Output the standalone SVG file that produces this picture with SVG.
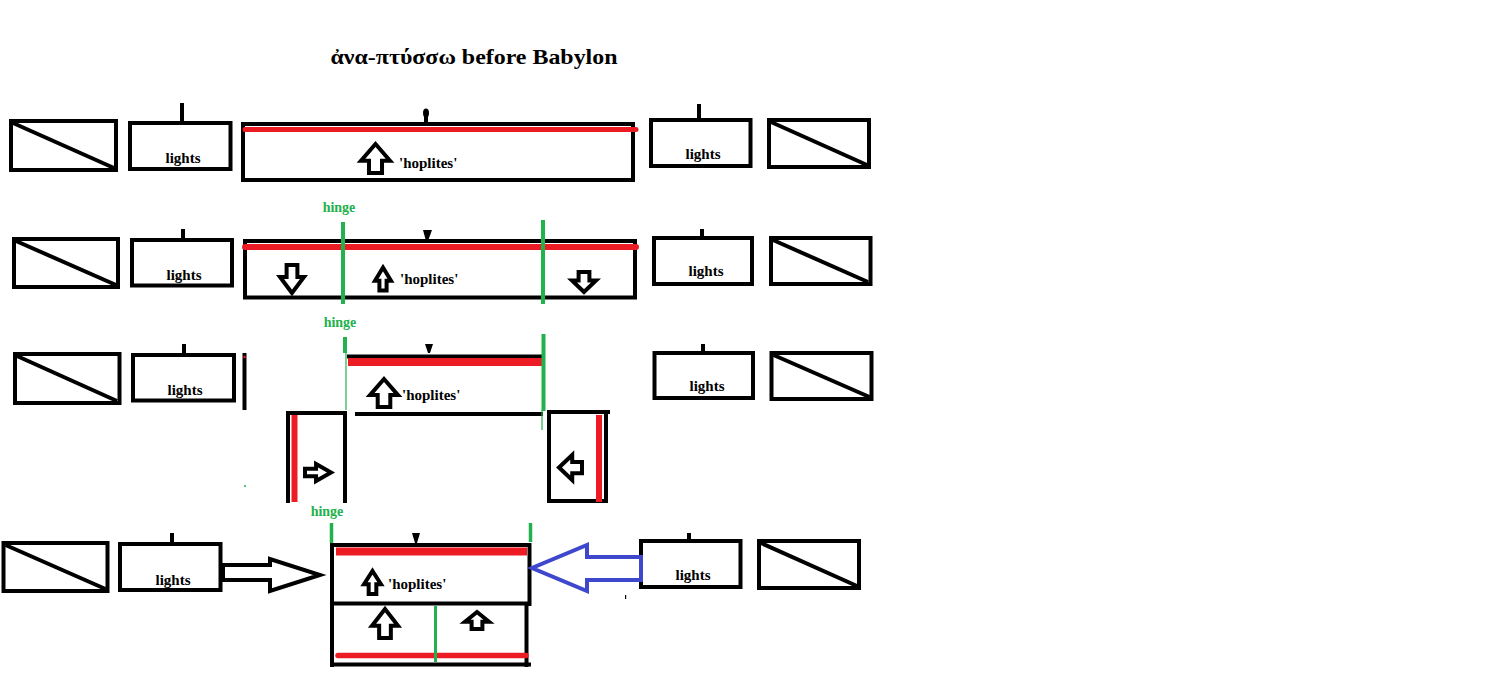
<svg xmlns="http://www.w3.org/2000/svg" xmlns:xlink="http://www.w3.org/1999/xlink" width="1510" height="691" viewBox="0 0 1510 691">
<style>
.bx{fill:none;stroke:#000;stroke-width:4}
.ln{fill:none;stroke:#000;stroke-width:4}
.red{fill:none;stroke:#ed1c24;stroke-linecap:round}
.butt{stroke-linecap:butt}
.grn{fill:none;stroke:#22b14c}
.lbl{font-family:"Liberation Serif","DejaVu Serif",serif;font-weight:bold;font-size:15px;text-anchor:middle;fill:#000}
.hop{font-family:"Liberation Serif","DejaVu Serif",serif;font-weight:bold;font-size:15px;fill:#000}
.hinge{font-family:"Liberation Serif","DejaVu Serif",serif;font-weight:bold;font-size:14px;text-anchor:middle;fill:#22b14c}
.ttl{font-family:"Liberation Serif","DejaVu Serif",serif;font-weight:bold;font-size:21px;text-anchor:middle;fill:#000}
.arr{fill:#fff;stroke:#000;stroke-width:4;vector-effect:non-scaling-stroke}
.tri{fill:#000}
</style>
<defs>
<path id="ua" class="arr" d="M0,-1 L1,0.15 L0.45,0.15 L0.45,1 L-0.45,1 L-0.45,0.15 L-1,0.15 Z"/>
</defs>
<rect width="1510" height="691" fill="#fff"/>
<text class="ttl" x="474" y="64" textLength="287" lengthAdjust="spacingAndGlyphs">ἀνα-πτύσσω before Babylon</text>

<!-- Row 1 -->
<g id="r1-cav-l"><rect class="bx" x="11" y="121" width="105" height="49"/><line class="ln" x1="13" y1="123" x2="114" y2="168"/></g>
<g id="r1-lights-l"><rect class="bx" x="130" y="123" width="100.5" height="46"/><line class="ln" x1="182" y1="103" x2="182" y2="123"/><text class="lbl" x="183" y="163">lights</text></g>
<g id="r1-phalanx">
<rect class="bx" x="243" y="124" width="390" height="56"/>
<line class="red" x1="245" y1="129.5" x2="636" y2="129.5" stroke-width="5"/>
<line class="ln" x1="426" y1="110" x2="426" y2="124" stroke-width="3.5"/><ellipse cx="426" cy="113" rx="3" ry="4.5"/>
<use xlink:href="#ua" transform="translate(375.5,158.5) scale(14.5,14.5)"/>
<text class="hop" x="399" y="168">'hoplites'</text>
</g>
<g id="r1-lights-r"><rect class="bx" x="651" y="120" width="99.5" height="46"/><line class="ln" x1="699" y1="104" x2="699" y2="120"/><text class="lbl" x="703" y="159">lights</text></g>
<g id="r1-cav-r"><rect class="bx" x="769" y="120" width="100" height="47"/><line class="ln" x1="771" y1="122" x2="867" y2="165"/></g>

<!-- Row 2 -->
<g id="r2-cav-l"><rect class="bx" x="14" y="239" width="104" height="48"/><line class="ln" x1="16" y1="241" x2="116" y2="285"/></g>
<g id="r2-lights-l"><rect class="bx" x="132" y="240" width="100" height="45.5"/><line class="ln" x1="183" y1="229" x2="183" y2="240"/><text class="lbl" x="184" y="280">lights</text></g>
<g id="r2-phalanx">
<rect class="bx" x="245" y="241" width="390" height="56.5"/>
<line class="red" x1="245" y1="247" x2="636" y2="247" stroke-width="6"/>
<polygon class="tri" points="423,230 432,230 428,241 426,241"/>
<use xlink:href="#ua" transform="translate(292,279) rotate(180) scale(12,14)"/>
<use xlink:href="#ua" transform="translate(584,282) rotate(180) scale(12,10)"/>
<use xlink:href="#ua" transform="translate(383,279) scale(8,11.5)"/>
<text class="hop" x="400" y="284">'hoplites'</text>
<line class="grn" x1="343" y1="222" x2="343" y2="304" stroke-width="4"/>
<line class="grn" x1="543" y1="220" x2="543" y2="304" stroke-width="4"/>
<text class="hinge" x="339" y="212">hinge</text>
</g>
<g id="r2-lights-r"><rect class="bx" x="654" y="238" width="98" height="46"/><line class="ln" x1="702" y1="229" x2="702" y2="238"/><text class="lbl" x="706" y="276">lights</text></g>
<g id="r2-cav-r"><rect class="bx" x="771" y="238" width="99.5" height="46"/><line class="ln" x1="773" y1="240" x2="868" y2="282"/></g>

<!-- Row 3 -->
<g id="r3-cav-l"><rect class="bx" x="15" y="354" width="104.5" height="49"/><line class="ln" x1="17" y1="356" x2="117" y2="401"/></g>
<g id="r3-lights-l"><rect class="bx" x="133" y="355" width="101" height="45.5"/><line class="ln" x1="184" y1="344" x2="184" y2="355"/><text class="lbl" x="185" y="395">lights</text></g>
<g id="r3-phalanx">
<line class="ln" x1="244.5" y1="353" x2="244.5" y2="410" stroke-width="2.5"/>
<circle cx="244.5" cy="357" r="1.2" fill="#ed1c24"/>
<line class="grn" x1="244" y1="486" x2="246" y2="486" stroke-width="1.5"/>
<line class="ln" x1="347" y1="356.5" x2="544" y2="356.5" stroke-width="3.5"/>
<line class="red butt" x1="348" y1="362" x2="545" y2="362" stroke-width="8"/>
<polygon class="tri" points="425,344 433,344 430,353 428,353"/>
<line class="ln" x1="355" y1="414" x2="543" y2="414"/>
<use xlink:href="#ua" transform="translate(384,393) scale(14,14)"/>
<text class="hop" x="402" y="400">'hoplites'</text>
<line class="grn" x1="345" y1="337" x2="345" y2="353" stroke-width="4"/>
<line class="grn" x1="346" y1="352" x2="346" y2="410" stroke-width="1.2"/>
<line class="grn" x1="543.5" y1="334" x2="543.5" y2="411" stroke-width="4"/>
<line class="grn" x1="542" y1="410" x2="542" y2="430" stroke-width="1.2"/>
<text class="hinge" x="340" y="327">hinge</text>
</g>
<g id="r3-wing-l">
<path class="ln" d="M288,503 V413 H345 V503"/>
<line class="red butt" x1="294.5" y1="415" x2="294.5" y2="502" stroke-width="6"/>
<use xlink:href="#ua" transform="translate(318,472.5) rotate(90) scale(8.5,13)"/>
</g>
<g id="r3-wing-r">
<rect class="bx" x="549" y="412" width="57" height="89"/>
<line class="ln" x1="600" y1="412" x2="610" y2="412"/>
<line class="red butt" x1="599" y1="415" x2="599" y2="502" stroke-width="6"/>
<use xlink:href="#ua" transform="translate(570.5,467.5) rotate(-90) scale(12.5,11.5)"/>
</g>
<g id="r3-lights-r"><rect class="bx" x="654.5" y="353" width="98.5" height="45"/><line class="ln" x1="703" y1="344" x2="703" y2="353"/><text class="lbl" x="707" y="391">lights</text></g>
<g id="r3-cav-r"><rect class="bx" x="771.5" y="353" width="100" height="46"/><line class="ln" x1="773.5" y1="355" x2="869.5" y2="397"/></g>

<!-- Row 4 -->
<g id="r4-cav-l"><rect class="bx" x="3.5" y="543" width="104" height="48"/><line class="ln" x1="5.5" y1="545" x2="105.5" y2="589"/></g>
<g id="r4-lights-l"><rect class="bx" x="120" y="544" width="100.5" height="46"/><line class="ln" x1="172" y1="533" x2="172" y2="544"/><text class="lbl" x="173" y="585">lights</text></g>
<g id="r4-phalanx">
<line class="red butt" x1="336" y1="551.5" x2="527" y2="551.5" stroke-width="8"/>
<line class="ln" x1="332" y1="543" x2="332" y2="667" stroke-width="5"/>
<line class="ln" x1="330" y1="545" x2="531" y2="545"/>
<line class="ln" x1="529.5" y1="543" x2="529.5" y2="606" stroke-width="5"/>
<polygon class="tri" points="412,533 420,533 417,543 415,543"/>
<use xlink:href="#ua" transform="translate(372.5,582.5) scale(8.5,11.5)"/>
<text class="hop" x="388" y="589">'hoplites'</text>
<line class="grn" x1="331.5" y1="523" x2="331.5" y2="543" stroke-width="3.5"/>
<line class="grn" x1="530.5" y1="523" x2="530.5" y2="542" stroke-width="3.5"/>
<text class="hinge" x="327" y="516">hinge</text>
</g>
<g id="r4-rear">
<line class="ln" x1="330" y1="603.5" x2="531" y2="603.5" stroke-width="6"/>
<line class="ln" x1="526.5" y1="603" x2="526.5" y2="667" stroke-width="5"/>
<line class="ln" x1="330" y1="664.5" x2="531" y2="664.5" stroke-width="5"/>
<line class="red" x1="338" y1="655.5" x2="526" y2="655.5" stroke-width="5.5"/>
<line class="grn" x1="435.5" y1="606" x2="435.5" y2="662" stroke-width="3"/>
<use xlink:href="#ua" transform="translate(385,623.5) scale(13,14.5)"/>
<use xlink:href="#ua" transform="translate(477,620.5) scale(12,8.5)"/>
</g>
<g id="r4-lights-r"><rect class="bx" x="641" y="541" width="99.5" height="46"/><line class="ln" x1="689" y1="533" x2="689" y2="541"/><text class="lbl" x="693" y="580">lights</text></g>
<g id="r4-cav-r"><rect class="bx" x="759" y="541" width="100" height="47"/><line class="ln" x1="761" y1="543" x2="857" y2="586"/></g>
<rect x="625" y="595" width="1.2" height="4" fill="#000"/>

<g id="connectors">
<polygon points="223,565 270,565 270,559 320,575 270,591 270,580 223,580" fill="#fff" stroke="#000" stroke-width="4" stroke-linejoin="miter"/>
<polygon points="641,557 587,557 587,545 532,568 587,591 587,580 641,580" fill="#fff" stroke="#3f48cc" stroke-width="4" stroke-linejoin="miter"/>
</g>
</svg>
